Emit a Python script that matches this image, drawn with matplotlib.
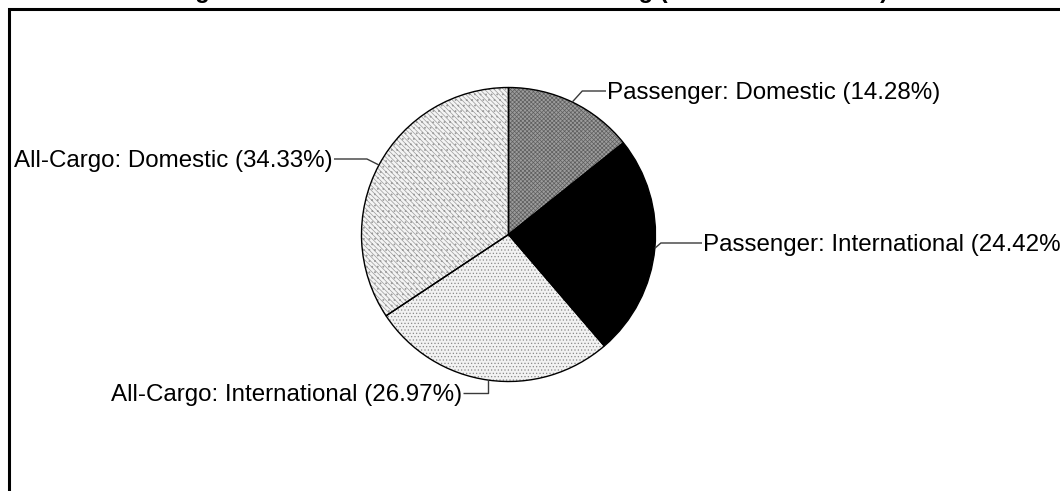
import matplotlib.pyplot as plt
from matplotlib.patches import Rectangle
import numpy as np

plt.rcParams['font.family'] = ['Liberation Sans', 'DejaVu Sans']
plt.rcParams['hatch.linewidth'] = 0.5

# data
labels = ['Passenger: Domestic', 'Passenger: International',
          'All-Cargo: International', 'All-Cargo: Domestic']
shares = [14.28, 24.42, 26.97, 34.33]

# wedge fills
face_colors = ['#9c9c9c', '#000000', '#f2f2f2', '#f4f4f4']
hatches = ['xxxxxxxx', '', '.....', '\\\\\\\\\\\\\\...']
hatch_colors = ['#5e5e5e', '#000000', '#8a8a8a', '#9a9a9a']

W, H = 1060, 491
fig = plt.figure(figsize=(W / 100, H / 100), dpi=100)
ax = fig.add_axes([0, 0, 1, 1])

# pie in pixel units (y up)
cx, cy, r = 508.5, H - 234.5, 147
pie_kw = dict(startangle=90, counterclock=False, center=(cx, cy), radius=r)

wedges, _ = ax.pie(shares, colors=face_colors, wedgeprops=dict(linewidth=0), **pie_kw)
hatch_wedges, _ = ax.pie(shares, colors=['none'] * 4, wedgeprops=dict(linewidth=0), **pie_kw)
for w, h, c in zip(hatch_wedges, hatches, hatch_colors):
    w.set_hatch(h)
    w.set_edgecolor(c)
ax.pie(shares, colors=['none'] * 4, wedgeprops=dict(linewidth=1.0, edgecolor='black'), **pie_kw)

ax.set_xlim(0, W)
ax.set_ylim(0, H)
ax.axis('off')

# label layout (image px): text x, leader y, alignment, elbow offset from anchor
text_x = [607, 703, 462, 333]
leader_y = [91, 243, 393, 159]
aligns = ['left', 'left', 'right', 'right']
elbow_dx = [10, 6, 0, -12]

for w, lab, s, tx, ly, ha, dx in zip(wedges, labels, shares, text_x, leader_y, aligns, elbow_dx):
    ang = np.deg2rad((w.theta1 + w.theta2) / 2)
    ax_ = cx + r * np.cos(ang)
    ay_ = cy + r * np.sin(ang)
    ey = H - ly
    xs = [ax_, ax_ + dx, tx - 1 if ha == 'left' else tx + 1]
    ys = [ay_, ey, ey]
    ax.plot(xs, ys, color='#3a3a3a', lw=1.0, solid_capstyle='butt')
    ax.text(tx, ey - 2, f'{lab} ({s:.2f}%)', ha=ha, va='center',
            fontsize=17.4, color='black')

# title (mostly above the visible area)
fig.text(152 / W, (H + 2) / H,
         'Freight Shares of Domestic and Intl. Routing (Percent of All Tons)',
         ha='left', va='baseline', fontsize=17, fontweight='bold')

# chart border
fig.add_artist(Rectangle((9 / W, -0.1), 1.2, (H - 8.5) / H + 0.1,
                         transform=fig.transFigure, fill=False,
                         lw=2.2, ec='black'))

fig.savefig('out.png', dpi=100)
